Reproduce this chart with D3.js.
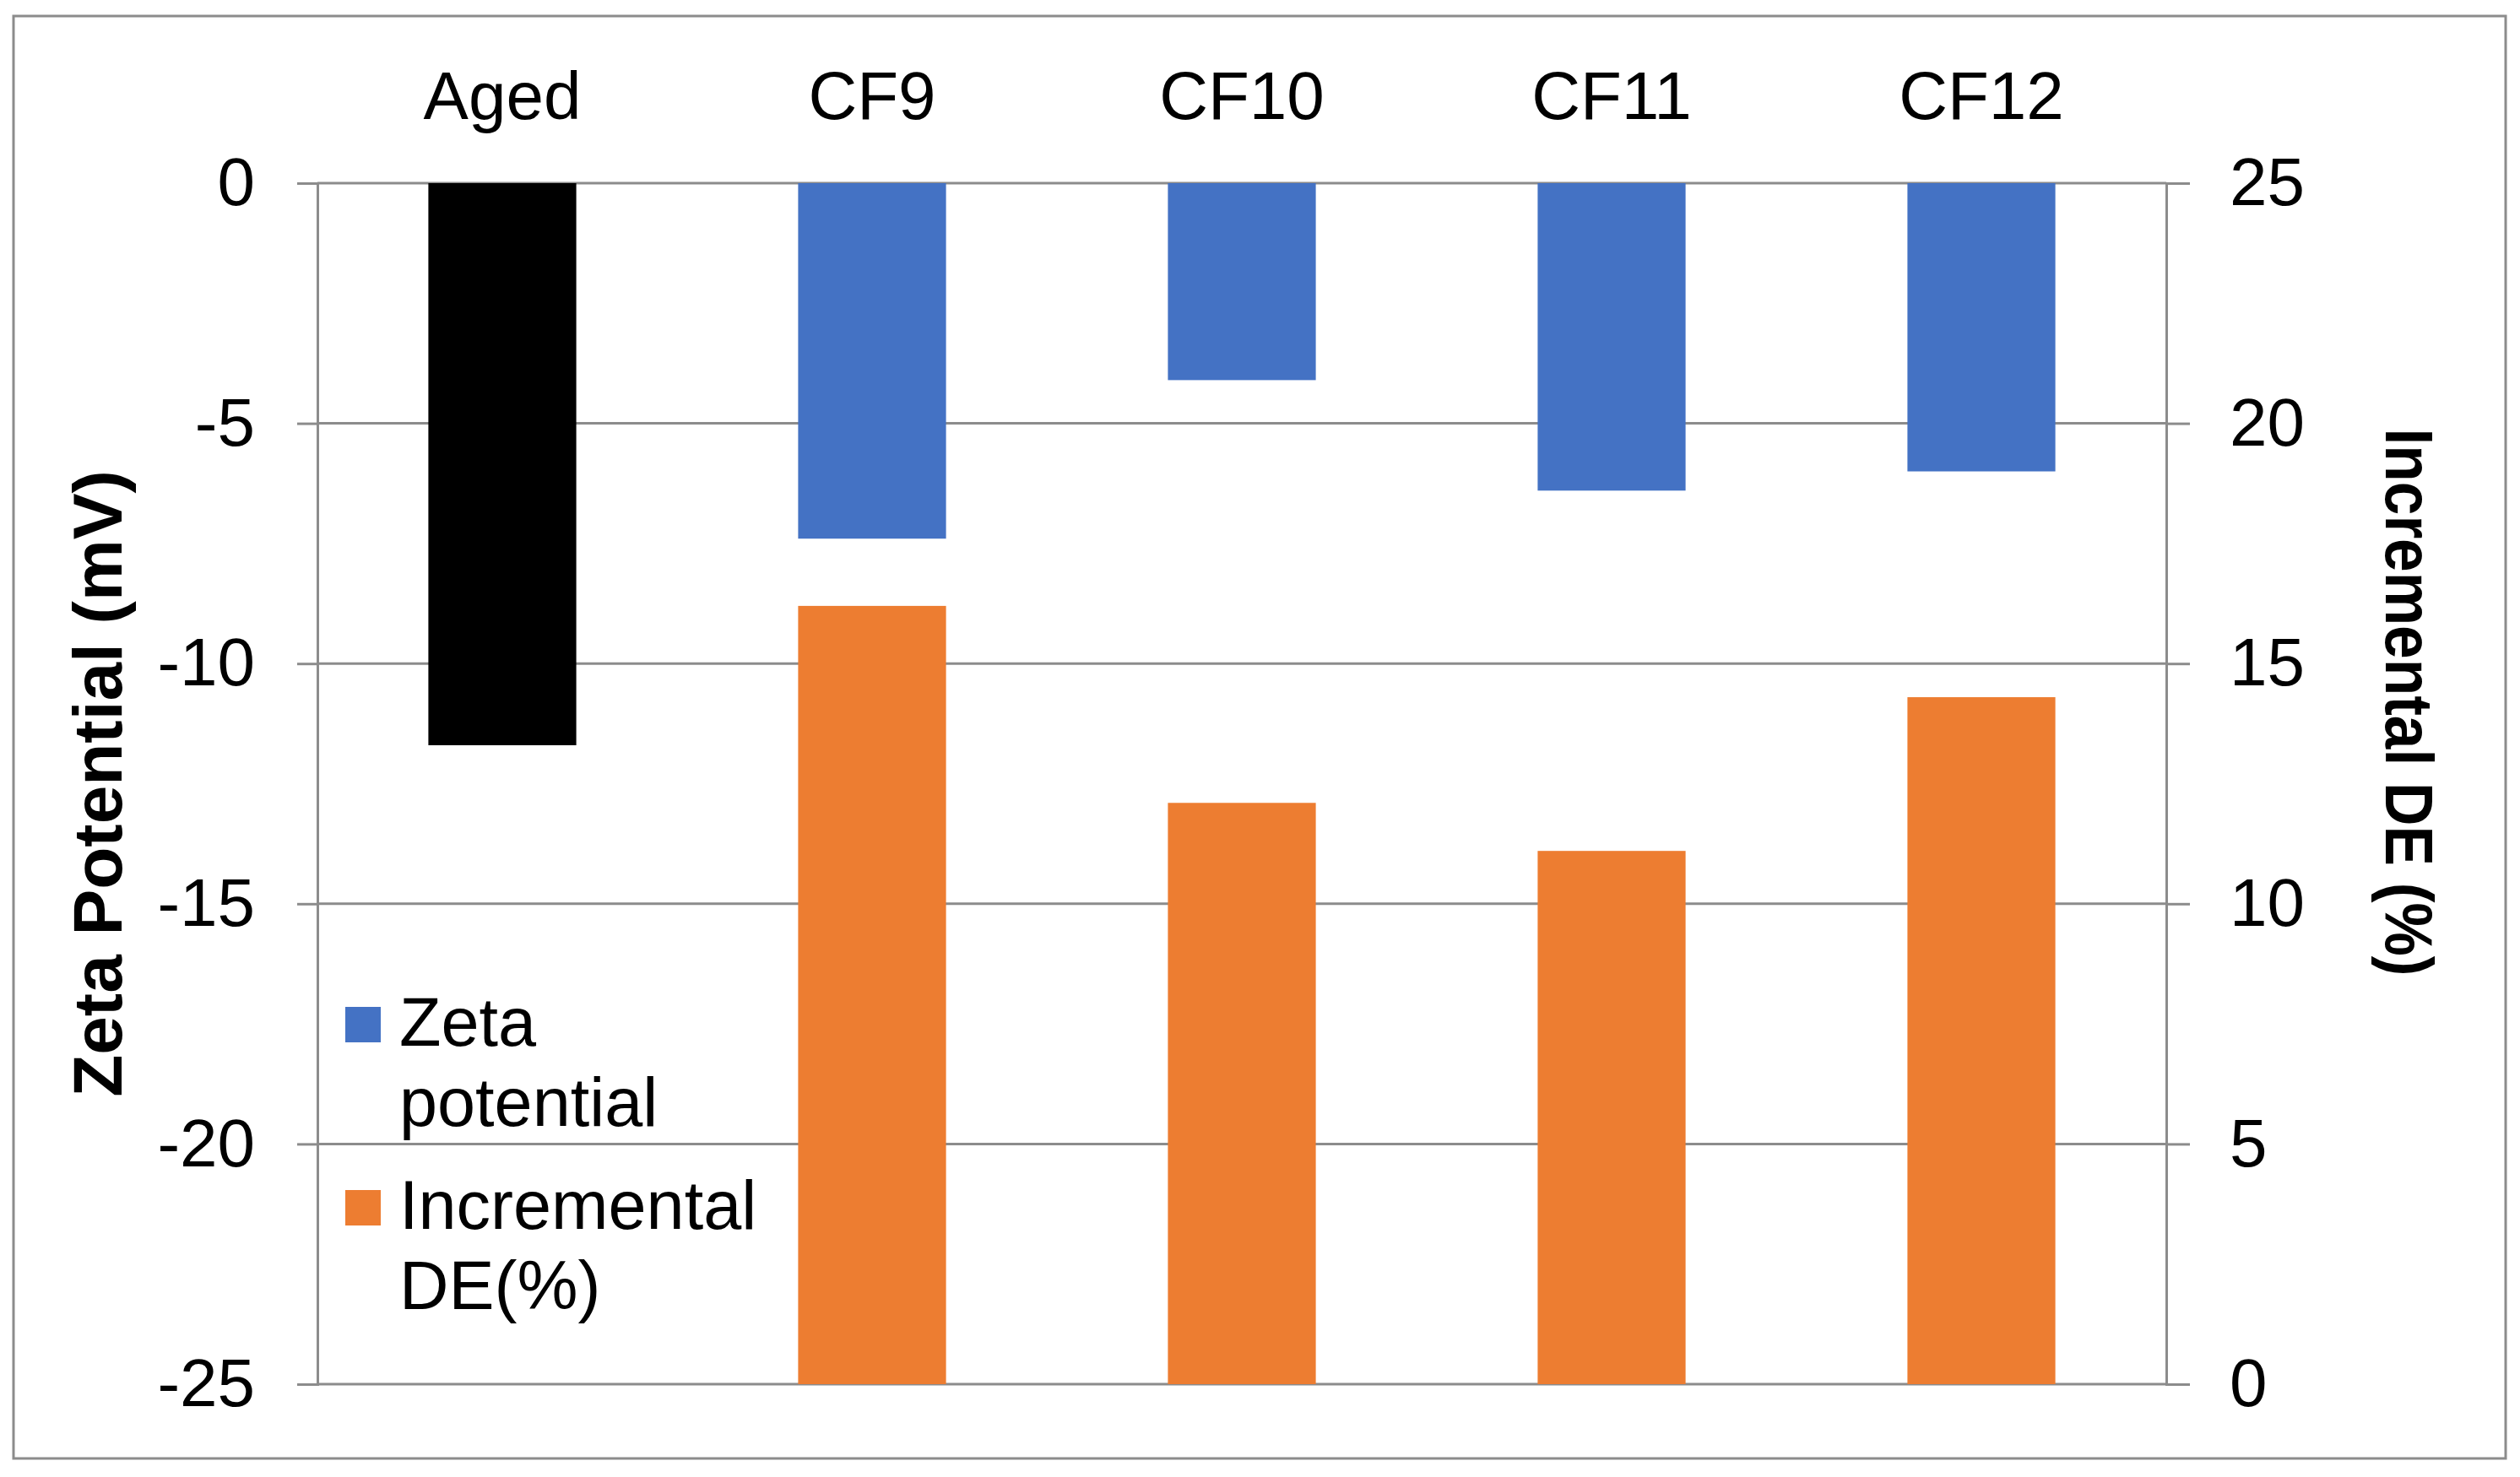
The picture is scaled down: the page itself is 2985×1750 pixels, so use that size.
<!DOCTYPE html>
<html>
<head>
<meta charset="utf-8">
<script src="https://cdn.jsdelivr.net/npm/d3@7"></script>
<style>
  body { margin: 0; background: #fff; }
  text { font-family: "Liberation Sans", Arial, sans-serif; fill: #000; }
</style>
</head>
<body>
<div id="chart"></div>
<script>
const svgWidth = 2985;
const svgHeight = 1750;

// ---- data ----
const categories = ['Aged', 'CF9', 'CF10', 'CF11', 'CF12'];
const zetaPotential = [-11.7, -7.4, -4.1, -6.4, -6.0];
const incrementalDE = [null, 16.2, 12.1, 11.1, 14.3];
const leftTicks = [0, -5, -10, -15, -20, -25];
const rightTicks = [25, 20, 15, 10, 5, 0];
const legendLabels = [['Zeta', 'potential'], ['Incremental', 'DE(%)']];

let plot = { left: 376, right: 2566, top: 217, bottom: 1640 };

const blue = '#4472C4', orange = '#ED7D31', grid = '#8c8c8c';

let svg = d3.select('#chart')
    .append('svg')
    .attr('width', svgWidth)
    .attr('height', svgHeight)

svg.append('rect')
    .attr('width', svgWidth).attr('height', svgHeight)
    .attr('fill', '#fff')

// outer chart border
svg.append('rect')
    .attr('x', 16).attr('y', 19)
    .attr('width', 2952).attr('height', 1709)
    .attr('fill', 'none')
    .attr('stroke', '#8c8c8c')
    .attr('stroke-width', 3)

let x = d3.scaleBand()
    .domain(categories)
    .range([plot.left, plot.right])
    .paddingInner(0.6)
    .paddingOuter(0.3);

let yLeft = d3.scaleLinear().domain([-25, 0]).range([plot.bottom, plot.top]);
let yRight = d3.scaleLinear().domain([0, 25]).range([plot.bottom, plot.top]);

// gridlines
svg.append('g').selectAll('line')
    .data(leftTicks)
    .enter()
    .append('line')
    .attr('x1', plot.left).attr('x2', plot.right)
    .attr('y1', d => yLeft(d)).attr('y2', d => yLeft(d))
    .attr('stroke', grid).attr('stroke-width', 3)

// left axis (plain hyphen for minus, like the original)
let leftAxis = svg.append('g')
    .attr('transform', `translate(${plot.left},0)`)
    .call(d3.axisLeft(yLeft).tickValues(leftTicks).tickSize(24).tickPadding(50).tickFormat(d => String(d)));

// right axis
let rightAxis = svg.append('g')
    .attr('transform', `translate(${plot.right},0)`)
    .call(d3.axisRight(yRight).tickValues(rightTicks).tickSize(28).tickPadding(47).tickFormat(d => String(d)));

[leftAxis, rightAxis].forEach(ax => {
    ax.select('.domain').attr('stroke', grid).attr('stroke-width', 3);
    ax.selectAll('.tick line').attr('stroke', grid).attr('stroke-width', 3);
    ax.selectAll('.tick text')
        .attr('font-size', 80)
        .attr('fill', '#000')
        .style('font-family', '"Liberation Sans", Arial, sans-serif');
});

// bars: zeta potential (left axis, hanging down from 0)
svg.append('g').selectAll('rect')
    .data(categories.map((c, i) => ({ cat: c, v: zetaPotential[i] })))
    .enter()
    .append('rect')
    .attr('x', d => x(d.cat))
    .attr('width', x.bandwidth())
    .attr('y', yLeft(0))
    .attr('height', d => yLeft(d.v) - yLeft(0))
    .attr('fill', d => d.cat === 'Aged' ? '#000' : blue)

// bars: incremental DE (right axis)
svg.append('g').selectAll('rect')
    .data(categories.map((c, i) => ({ cat: c, v: incrementalDE[i] })).filter(d => d.v !== null))
    .enter()
    .append('rect')
    .attr('x', d => x(d.cat))
    .attr('width', x.bandwidth())
    .attr('y', d => yRight(d.v))
    .attr('height', d => yRight(0) - yRight(d.v))
    .attr('fill', orange)

// category labels along the top
svg.append('g').selectAll('text')
    .data(categories)
    .enter()
    .append('text')
    .attr('x', d => x(d) + x.bandwidth() / 2)
    .attr('y', 141)
    .attr('text-anchor', 'middle')
    .attr('font-size', 80)
    .text(d => d)

// axis titles
svg.append('text')
    .attr('transform', `translate(144,${(plot.top + plot.bottom) / 2}) rotate(-90)`)
    .attr('text-anchor', 'middle')
    .attr('font-size', 82)
    .attr('font-weight', 'bold')
    .text('Zeta Potential (mV)')

svg.append('text')
    .attr('transform', `translate(2826,832) rotate(90)`)
    .attr('text-anchor', 'middle')
    .attr('font-size', 80)
    .attr('font-weight', 'bold')
    .attr('textLength', 649)
    .attr('lengthAdjust', 'spacingAndGlyphs')
    .text('Incremental DE (%)')

// legend
let legend = svg.append('g');
const legendColors = [blue, orange];
const legendTop = [1193, 1410];
legendLabels.forEach((lines, i) => {
    legend.append('rect')
        .attr('x', 409).attr('y', legendTop[i])
        .attr('width', 42).attr('height', 42)
        .attr('fill', legendColors[i]);
    lines.forEach((ln, j) => {
        legend.append('text')
            .attr('x', 473)
            .attr('y', legendTop[i] + 46 + j * 95)
            .attr('font-size', 81)
            .text(ln);
    });
});
</script>
</body>
</html>
